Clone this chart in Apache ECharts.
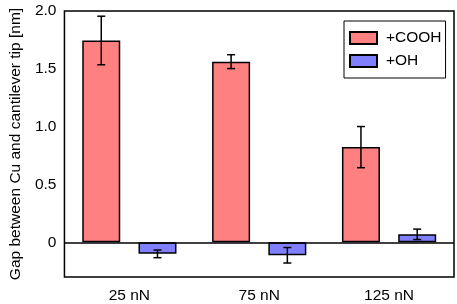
<!DOCTYPE html>
<html>
<head>
<meta charset="utf-8">
<script src="https://cdn.jsdelivr.net/npm/echarts@6/dist/echarts.min.js"></script>
<style>
  html, body { margin: 0; padding: 0; background: #fff; }
  #chart { width: 457px; height: 304px; }
</style>
</head>
<body>
<div id="chart"></div>
<script>
// 数据
const categories = ['25 nN', '75 nN', '125 nN'];
const coohValues = [1.745, 1.562, 0.823];
const coohErrors = [0.21, 0.06, 0.178];
const ohValues = [-0.10, -0.112, 0.069];
const ohErrors = [0.033, 0.067, 0.045];

const BAR_W = 38;
const BAR_GAP = 0.48;
const FONT = 'Liberation Sans, Arial, sans-serif';
const FS = 15.5;

// 误差线 (offsetSign: -1 左柱, +1 右柱)
const errorSeries = (values, errors, offsetSign) => ({
  type: 'custom',
  silent: true,
  z: 10,
  data: values.map((v, i) => [i, v - errors[i], v + errors[i]]),
  renderItem: (params, api) => {
    const shift = offsetSign * (BAR_W + BAR_W * BAR_GAP) / 2;
    const lo = api.coord([api.value(0), api.value(1)]);
    const hi = api.coord([api.value(0), api.value(2)]);
    const x = lo[0] + shift;
    const cap = 4;
    const style = { stroke: '#000', lineWidth: 1.5 };
    return {
      type: 'group',
      children: [
        { type: 'line', shape: { x1: x, y1: lo[1], x2: x, y2: hi[1] }, style },
        { type: 'line', shape: { x1: x - cap, y1: lo[1], x2: x + cap, y2: lo[1] }, style },
        { type: 'line', shape: { x1: x - cap, y1: hi[1], x2: x + cap, y2: hi[1] }, style }
      ]
    };
  }
});

const chart = echarts.init(document.getElementById('chart'));
chart.setOption({
  animation: false,
  textStyle: { fontFamily: FONT },
  grid: {
    left: 55, right: 3, top: 11, bottom: 25,
    show: true, borderColor: '#000', borderWidth: 1.5, backgroundColor: 'transparent'
  },
  legend: {
    orient: 'vertical',
    left: 344, top: 21,
    padding: [9, 4, 9, 5],
    itemGap: 7,
    itemWidth: 27, itemHeight: 12,
    borderColor: '#000', borderWidth: 1,
    icon: 'rect',
    textStyle: { fontSize: FS, color: '#000', fontFamily: FONT, padding: [0, 0, 0, 4] },
    data: ['+COOH', '+OH']
  },
  xAxis: {
    type: 'category',
    data: categories,
    axisLine: { show: false, onZero: false },
    axisTick: { show: false },
    axisLabel: { color: '#000', fontSize: FS, margin: 11, fontFamily: FONT }
  },
  yAxis: {
    type: 'value',
    min: -0.3, max: 2.0,
    name: 'Gap between Cu and cantilever tip [nm]',
    nameLocation: 'middle',
    nameGap: 35,
    nameTextStyle: { fontSize: FS, color: '#000', fontFamily: FONT },
    axisLine: { show: false },
    axisTick: { show: false },
    splitLine: { show: false },
    axisLabel: {
      color: '#000', fontSize: FS, margin: 8, fontFamily: FONT,
      formatter: (v) => {
        if (v < -1e-9) return '';
        if (Math.abs(v) < 1e-9) return '0';
        return v.toFixed(1);
      }
    }
  },
  series: [
    {
      name: '+COOH',
      type: 'bar',
      barWidth: BAR_W,
      barGap: (BAR_GAP * 100) + '%',
      itemStyle: { color: '#FF8080', borderColor: '#000', borderWidth: 1.5 },
      data: coohValues,
      markLine: {
        silent: true,
        symbol: 'none',
        label: { show: false },
        lineStyle: { color: '#000', width: 1.5, type: 'solid' },
        data: [{ yAxis: 0 }]
      }
    },
    {
      name: '+OH',
      type: 'bar',
      barWidth: BAR_W,
      itemStyle: { color: '#8080FF', borderColor: '#000', borderWidth: 1.5 },
      data: ohValues
    },
    errorSeries(coohValues, coohErrors, -1),
    errorSeries(ohValues, ohErrors, 1)
  ]
});
</script>
</body>
</html>
